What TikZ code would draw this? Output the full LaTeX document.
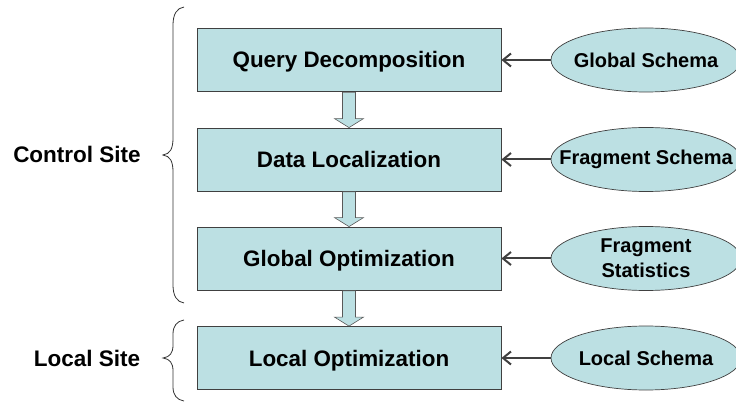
\documentclass[tikz,border=0pt]{standalone}
\usepackage{fontspec}
\setmainfont{Liberation Sans}
\usetikzlibrary{shapes.geometric,arrows.meta,calc}
\definecolor{stepfill}{RGB}{188,224,227}
\definecolor{edgegray}{RGB}{64,64,64}
\begin{document}
\begin{tikzpicture}[x=1pt,y=-1pt,
  stepbox/.style={draw=edgegray,line width=0.8pt,fill=stepfill,minimum width=304pt,
    minimum height=63pt,inner sep=0pt,text height=16pt,text depth=0pt,
    font=\fontsize{22.4}{27}\selectfont\bfseries},
  source/.style={ellipse,draw=edgegray,line width=0.7pt,fill=stepfill,minimum width=190pt,
    minimum height=64pt,inner sep=0pt,align=center,font=\fontsize{20}{25}\selectfont\bfseries},
  sitelabel/.style={font=\fontsize{22.5}{27}\selectfont\bfseries,text height=16pt,text depth=0pt},
  feed/.style={draw=edgegray,line width=2pt,-{Straight Barb[length=8pt,width=13pt,line width=2pt]}},
  flow/.style={draw=gray!70!black,line width=0.6pt,fill=stepfill,line join=miter},
  bracket/.style={draw=gray!40!black,line width=0.8pt}]
\useasboundingbox (0,0) rectangle (736,403);

% processing steps
\node[stepbox] (qd) at (349,60) {Query Decomposition};
\node[stepbox] (dl) at (349,159.5) {Data Localization};
\node[stepbox] (go) at (349,258.5) {Global Optimization};
\node[stepbox] (lo) at (349,358) {Local Optimization};

% information sources (single-line labels are kept from widening the ellipse)
\node[source] (gs) at (646,60) {\makebox[0pt]{Global Schema}};
\node[source] (fs) at (646,159.5) {\makebox[0pt]{Fragment Schema}};
\node[source] (st) at (646,258.5) {Fragment\\Statistics};
\node[source] (ls) at (646,358) {\makebox[0pt]{Local Schema}};

\draw[feed] (gs.west) -- (qd.east);
\draw[feed] (fs.west) -- (dl.east);
\draw[feed] (st.west) -- (go.east);
\draw[feed] (ls.west) -- (lo.east);

% block arrows between the steps
\foreach \a/\b in {qd/dl, dl/go, go/lo}{
  \draw[flow] ($(\a.south)+(-6.5,0.5)$) -- ($(\b.north)+(-6.5,-9)$) -- ($(\b.north)+(-14.5,-9)$)
    -- (\b.north) -- ($(\b.north)+(14.5,-9)$) -- ($(\b.north)+(6.5,-9)$)
    -- ($(\a.south)+(6.5,0.5)$) -- cycle;
}

% site braces
\draw[bracket] (184,7) .. controls (177,8) and (173,14) .. (173,25) -- (173,138)
  .. controls (173,149) and (170,154) .. (163,155)
  .. controls (170,156) and (173,161) .. (173,172) -- (173,285)
  .. controls (173,296) and (177,302) .. (184,303);
\draw[bracket] (184,320) .. controls (177,321) and (173,326) .. (173,334) -- (173,345)
  .. controls (173,353) and (170,357) .. (163,358)
  .. controls (170,359) and (173,363) .. (173,371) -- (173,387)
  .. controls (173,395) and (177,400) .. (184,401);

\node[sitelabel] (cs) at (77,155) {Control Site};
\node[sitelabel] (lsite) at (87,358) {Local Site};
\end{tikzpicture}
\end{document}
